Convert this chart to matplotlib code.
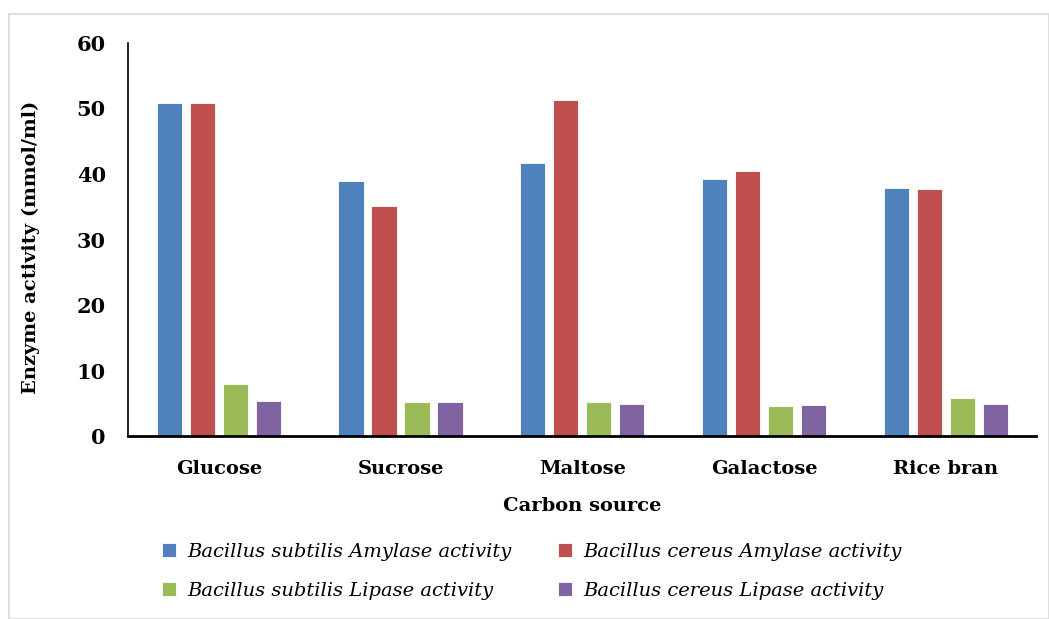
import numpy as np
import matplotlib
matplotlib.use('Agg')
import matplotlib.pyplot as plt
from matplotlib.patches import Rectangle

sources = ['Glucose', 'Sucrose', 'Maltose', 'Galactose', 'Rice bran']
subtilis_amylase = [50.8, 39.0, 41.6, 39.2, 37.9]
cereus_amylase = [50.8, 35.1, 51.3, 40.5, 37.7]
subtilis_lipase = [8.0, 5.2, 5.2, 4.6, 5.9]
cereus_lipase = [5.4, 5.2, 5.0, 4.8, 5.0]

series = [
    ('Bacillus subtilis Amylase activity', subtilis_amylase, '#4f81bd'),
    ('Bacillus cereus Amylase activity', cereus_amylase, '#c0504d'),
    ('Bacillus subtilis Lipase activity', subtilis_lipase, '#9bbb59'),
    ('Bacillus cereus Lipase activity', cereus_lipase, '#8064a2'),
]

plt.rcParams['font.family'] = 'DejaVu Serif'

fig = plt.figure(figsize=(10.49, 6.19), dpi=100)
ax = fig.add_axes([0.122, 0.295, 0.866, 0.636])

# light grey chart frame
fig.patches.append(Rectangle((9 / 1049, 0), 1 - 9 / 1049, 1 - 14 / 619, transform=fig.transFigure,
                             fill=False, edgecolor='#d9d9d9', linewidth=1.2))

x = np.arange(len(sources))
width = 0.138
step = 0.1816
handles = []
for i, (name, vals, color) in enumerate(series):
    b = ax.bar(x + (i - 1.5) * step, vals, width, color=color, edgecolor='white', linewidth=0.6, label=name)
    handles.append(b)

ax.set_xlim(-0.5, 4.5)
ax.set_ylim(0, 60)
ax.set_yticks(range(0, 61, 10))
ax.set_xticks(x)
ax.set_xticklabels(sources, fontsize=14, fontweight='bold')
ax.tick_params(axis='y', labelsize=15, length=0, pad=16)
ax.tick_params(axis='x', length=0, pad=17)
for lab in ax.get_yticklabels():
    lab.set_fontweight('bold')

for s in ['top', 'right']:
    ax.spines[s].set_visible(False)
ax.spines['left'].set_linewidth(1.2)
ax.spines['bottom'].set_linewidth(2)

ax.set_ylabel('Enzyme activity (mmol/ml)', fontsize=14, fontweight='bold')
ax.yaxis.set_label_coords(-0.097, 0.48)
ax.set_xlabel('Carbon source', fontsize=14, fontweight='bold', labelpad=14)

# row-wise legend order
order = [0, 2, 1, 3]
fig.legend(handles=[handles[k] for k in order], loc='center', bbox_to_anchor=(0.507, 0.077), ncol=2,
           frameon=False, prop={'style': 'italic', 'size': 14}, handlelength=0.7, handleheight=0.7,
           columnspacing=2.4, handletextpad=0.6, labelspacing=1.1)

fig.savefig('out.png', dpi=100)
